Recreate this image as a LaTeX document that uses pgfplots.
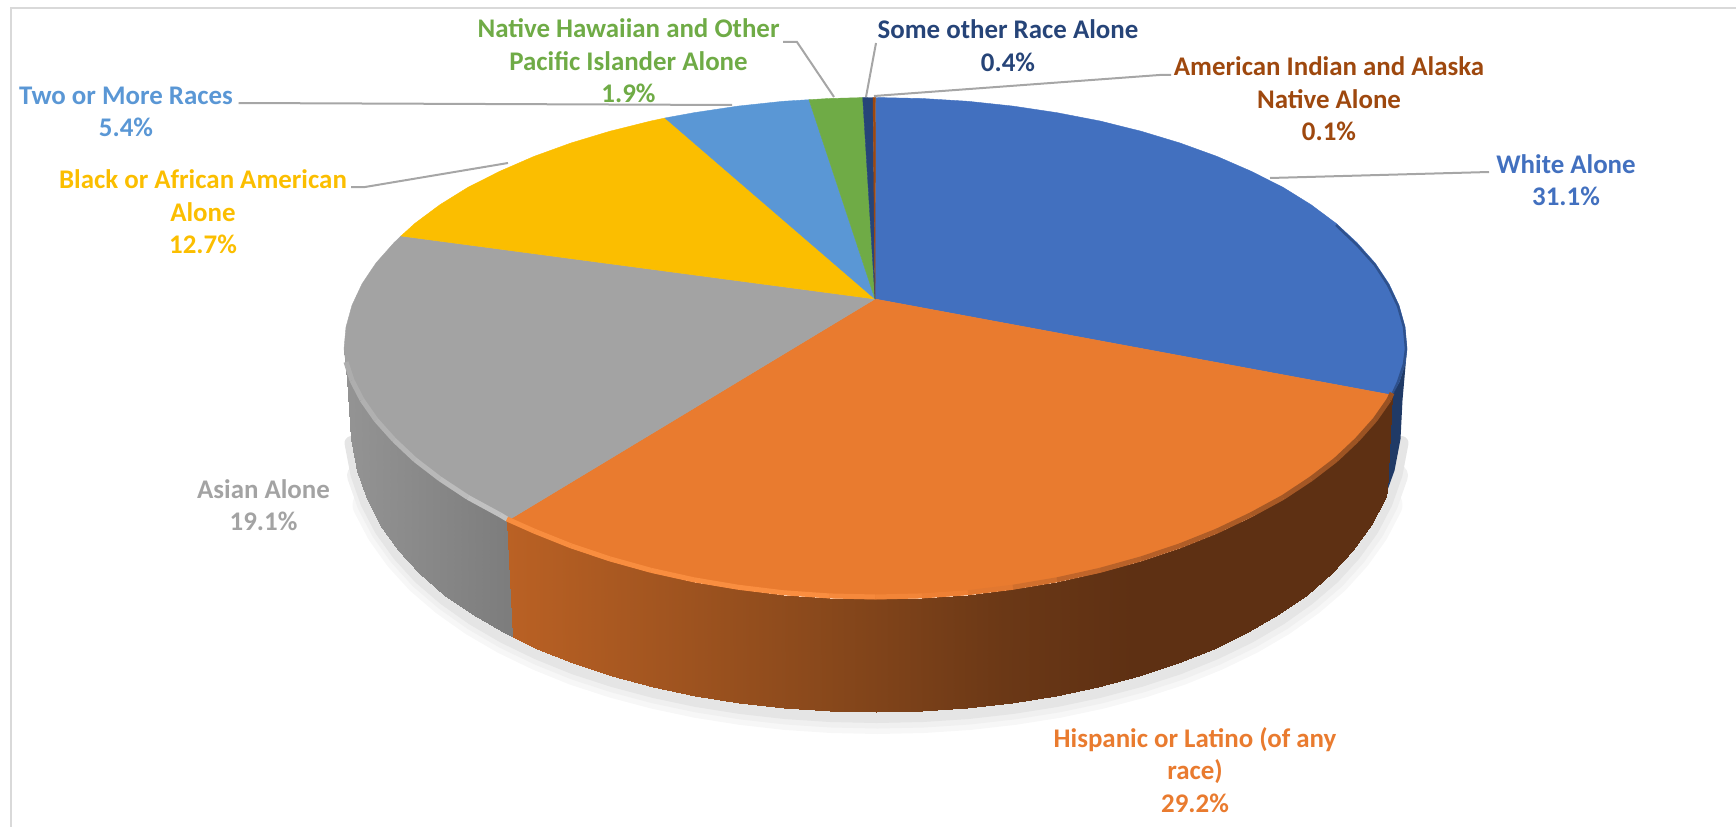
\documentclass[border=0pt]{standalone}
\usepackage{pgfplots}
\usepackage{pgfplotstable}
\pgfplotsset{compat=1.18}
\usepackage{fontspec}
\setmainfont{Carlito}

\definecolor{cWhite}{HTML}{4270BF}
\definecolor{cHisp}{HTML}{E97B2F}
\definecolor{cAsian}{HTML}{A3A3A3}
\definecolor{cBlack}{HTML}{FBBE00}
\definecolor{cTwo}{HTML}{5A97D5}
\definecolor{cNative}{HTML}{6FAB46}
\definecolor{cOther}{HTML}{264478}
\definecolor{cIndian}{HTML}{9E480E}
\definecolor{leader}{HTML}{A6A6A6}

% positions are (x-344)/100 so one scale fits the whole pie width
\pgfplotsset{
  colormap={sideO}{rgb255(0cm)=(190,100,38) rgb255(1.63cm)=(186,97,36) rgb255(4.6cm)=(140,74,28) rgb255(6.6cm)=(107,56,22) rgb255(7.9cm)=(94,48,19) rgb255(10.63cm)=(94,48,19)},
  colormap={sideG}{rgb255(0cm)=(148,148,148) rgb255(1.63cm)=(125,125,125) rgb255(10.63cm)=(125,125,125)},
  colormap={rimO}{rgb255(0cm)=(246,140,62) rgb255(4.6cm)=(250,142,64) rgb255(6.2cm)=(236,126,50) rgb255(7.4cm)=(190,100,42) rgb255(10.63cm)=(150,80,34)},
  colormap={rimG}{rgb255(0cm)=(172,172,172) rgb255(1.63cm)=(196,196,196) rgb255(10.63cm)=(196,196,196)},
}

% front edge of the top face, upper point then lower point of the side wall
\pgfplotstableread{
x y
344 349
348.5 400
346 364
350.5 439
352 382.4
356.5 470.5
362 401.8
366.5 498.9
376 421.8
380.3 525.3
394 441.9
398 550
415 461.7
419 573.1
440 480.9
444 594.5
468 499.4
472 614.3
500 516.8
503 632.4
507 521
513 637
}\sideGray

\pgfplotstableread{
x y
507 521
513 637
534 533
537 648.8
571 547.8
573 663.4
610 560.9
612 676.1
651 572.3
653 687
694 581.8
695 695.9
738 589.2
739 702.9
783 594.7
784 708
829 597.9
829.5 711
875.5 599
875.5 712
922 597.9
921.5 711
968 594.7
967 708
1013 589.2
1012 702.9
1057 581.8
1056 695.9
1100 572.3
1098 687
1141 560.9
1139 676.1
1180 547.8
1178 663.4
1217 533
1214 648.8
1251 516.8
1248 632.4
1283 499.4
1279 614.3
1311 480.9
1307 594.5
1336 461.7
1332 573.1
1357 441.9
1353 550
1375 421.8
1370.7 525.3
1389 401.8
1384.5 498.9
1392 395
1387 492
}\sideOrange

% outline of the pie's foot, for the drop shadow
\pgfplotstableread{
x y
348.5 400
350.5 439
356.5 470.5
366.5 498.9
380.3 525.3
398 550
419 573.1
444 594.5
472 614.3
503 632.4
537 648.8
573 663.4
612 676.1
653 687
695 695.9
739 702.9
784 708
829.5 711
875.5 712
921.5 711
967 708
1012 702.9
1056 695.9
1098 687
1139 676.1
1178 663.4
1214 648.8
1248 632.4
1279 614.3
1307 594.5
1332 573.1
1353 550
1370.7 525.3
1384.5 498.9
1394.5 470.5
1400.5 439
1402.5 400
}\footLine

\pgfplotstableread{
x y
507 521
534 533
571 547.8
610 560.9
651 572.3
694 581.8
738 589.2
783 594.7
829 597.9
875.5 599
922 597.9
968 594.7
1013 589.2
1057 581.8
1100 572.3
1141 560.9
1180 547.8
1217 533
1251 516.8
1283 499.4
1311 480.9
1336 461.7
1357 441.9
1375 421.8
1389 401.8
1392 395
}\rimOrange

\pgfplotstableread{
x y
346 364
352 382.4
362 401.8
376 421.8
394 441.9
415 461.7
440 480.9
468 499.4
500 516.8
507 521
}\rimGray

\newcommand{\lab}[4]{\node[align=center,text=#1,font=\fontsize{27}{32.5}\selectfont\bfseries] at (axis cs:#2,#3) {#4};}

\begin{document}
\begin{tikzpicture}
\begin{axis}[
  scale only axis,
  width=1736bp, height=827bp,
  xmin=0, xmax=1736, ymin=0, ymax=827,
  y dir=reverse,
  hide axis,
  point meta min=344, point meta max=1407,
]
% keeps the whole plot area in the bounding box
\addplot[draw=none] coordinates {(0,0) (1736,827)};
% frame
\addplot[draw=black!15, line width=2bp] coordinates {(1736,8) (11,8) (11,827)};

% soft shadow under the pie, wider lower down
\addplot[draw=black!3, line width=32bp, line join=round, line cap=round, restrict y to domain=490:800] table[x expr=\thisrow{x}+2, y expr=\thisrow{y}+6] {\footLine};
\addplot[draw=black!6, line width=23bp, line join=round, line cap=round, restrict y to domain=450:800] table[x expr=\thisrow{x}+2, y expr=\thisrow{y}+5] {\footLine};
\addplot[draw=black!10, line width=14bp, line join=round, line cap=round, restrict y to domain=420:800] table[x expr=\thisrow{x}+1, y expr=\thisrow{y}+4] {\footLine};

% white wedge seen behind the orange one
\addplot[fill=cOther!85!black, draw=none] coordinates {(1407,349) (1405,364) (1399,382.4) (1392,395) (1385,497) (1394.5,470.5) (1400.5,439) (1402.5,400) (1407,349)};

% side walls
\addplot[surf, shader=interp, colormap name=sideG, point meta=x, mesh/rows=11] table {\sideGray};
\addplot[surf, shader=interp, colormap name=sideO, point meta=x, mesh/rows=26] table {\sideOrange};

% top faces
\addplot[fill=cWhite, draw=cWhite] coordinates {(875,299) (875.5,97.5) (922,98.5) (968,101.3) (1013,106.1) (1057,112.7) (1100,121) (1141,131.2) (1180,143) (1217,156.4) (1251,171.2) (1283,187.3) (1311,204.7) (1336,223.3) (1357,242.7) (1375,263) (1389,283.9) (1399,305.3) (1405,327) (1407,349) (1405,364) (1399,382.4) (1392,395) (875,299)};
\addplot[fill=cHisp, draw=cHisp] coordinates {(875,299) (507,521) (534,533) (571,547.8) (610,560.9) (651,572.3) (694,581.8) (738,589.2) (783,594.7) (829,597.9) (875.5,599) (922,597.9) (968,594.7) (1013,589.2) (1057,581.8) (1100,572.3) (1141,560.9) (1180,547.8) (1217,533) (1251,516.8) (1283,499.4) (1311,480.9) (1336,461.7) (1357,441.9) (1375,421.8) (1389,401.8) (1392,395) (875,299)};
\addplot[fill=cAsian, draw=cAsian] coordinates {(875,299) (401,236) (394,242.7) (376,263) (362,283.9) (352,305.3) (346,327) (344,349) (346,364) (352,382.4) (362,401.8) (376,421.8) (394,441.9) (415,461.7) (440,480.9) (468,499.4) (500,516.8) (507,521) (875,299)};
\addplot[fill=cBlack, draw=cBlack] coordinates {(875,299) (665,118) (651,121) (610,131.2) (571,143) (534,156.4) (500,171.2) (468,187.3) (440,204.7) (415,223.3) (401,236) (875,299)};
\addplot[fill=cTwo, draw=cTwo] coordinates {(875,299) (809,99.7) (783,101.3) (738,106.1) (694,112.7) (665,118) (875,299)};
\addplot[fill=cNative, draw=cNative] coordinates {(875,299) (862.7,97.6) (829,98.5) (809,99.7) (875,299)};
\addplot[fill=cOther, draw=cOther] coordinates {(875,299) (873,97.5) (862.7,97.6) (875,299)};
\addplot[fill=cIndian, draw=cIndian, line width=0.4bp] coordinates {(875,299) (875.5,97.5) (873,97.5) (875,299)};

% bevel along the front edge
\addplot[mesh, colormap name=rimG, point meta=x, line width=5bp] table[y expr=\thisrow{y}-2] {\rimGray};
\addplot[mesh, colormap name=rimO, point meta=x, line width=5bp] table[y expr=\thisrow{y}-2] {\rimOrange};
% darker edge on the right of the white wedge
\addplot[draw=cOther, line width=2.5bp, opacity=0.7] coordinates {(1336,225) (1357,245) (1375,265) (1388,285) (1398,306) (1404,327) (1406,349) (1404,364) (1398,382) (1393,393)};

% leader lines
\addplot[draw=leader, line width=2bp] coordinates {(238.5,103) (732,105)};
\addplot[draw=leader, line width=2bp] coordinates {(351,187) (365,187) (508,163)};
\addplot[draw=leader, line width=2bp] coordinates {(783,42) (797,42) (834,97)};
\addplot[draw=leader, line width=2bp] coordinates {(876,43) (866,97)};
\addplot[draw=leader, line width=2bp] coordinates {(1171,75) (1159.5,75) (874,96)};
\addplot[draw=leader, line width=2bp] coordinates {(1270,178) (1489,172)};

\lab{cWhite}{1566}{180}{White Alone\\31.1\%}
\lab{cHisp}{1195}{770}{Hispanic or Latino (of any\\race)\\29.2\%}
\lab{cAsian}{263.5}{505}{Asian Alone\\19.1\%}
\lab{cBlack}{203}{212}{Black or African American\\Alone\\12.7\%}
\lab{cTwo}{126}{112}{Two or More Races\\5.4\%}
\lab{cNative}{628.5}{61}{Native Hawaiian and Other\\Pacific Islander Alone\\1.9\%}
\lab{cOther}{1008}{45.5}{Some other Race Alone\\0.4\%}
\lab{cIndian}{1329}{99}{American Indian and Alaska\\Native Alone\\0.1\%}
\end{axis}
\end{tikzpicture}
\end{document}
